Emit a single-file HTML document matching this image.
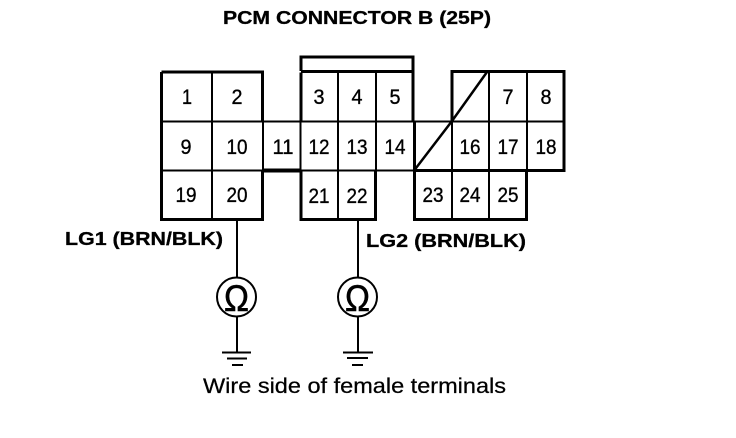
<!DOCTYPE html>
<html><head><meta charset="utf-8"><style>
html,body{margin:0;padding:0;background:#fff}
svg{display:block}
text{font-family:"Liberation Sans",sans-serif;fill:#000}
.n{font-size:21px;text-anchor:middle;stroke:#000;stroke-width:.35}
.b{font-size:18.500px;font-weight:bold;stroke:#000;stroke-width:.3}
</style></head><body>
<svg width="736" height="438" viewBox="0 0 736 438" xmlns="http://www.w3.org/2000/svg">
<rect width="736" height="438" fill="#fff"/>
<g fill="none" stroke="#000" stroke-width="3">
<path d="M161.500 72H262.500V121M262.500 170V219.500H161.500V72"/>
<path d="M301 121V72.500M301 170.500V219.500H375.500V171"/>
<path d="M301 71V57H413V121"/>
<path d="M301 71.500H413"/>
<path d="M263 170.500H301" stroke-width="4"/>
<path d="M414.500 121V219.500H526.500V171"/>
<path d="M452 121V71.500H564V170.500H414"/>
</g>
<g fill="none" stroke="#000" stroke-width="2">
<path d="M161 121.500H564M161 170.500H414"/>
<path d="M212 72V219M263 121V170M300.500 121V170M338 72V219M376 72V170"/>
<path d="M452 121V219M489 72V219M527 72V170"/>
<path d="M487 72L452 121L414.500 170" stroke-width="2.500"/>
<path d="M237 220V278M237 316V352M358 220V278M358 316V352"/>
<path d="M222 352.500H251M343 352.500H373"/>
<path d="M227 358.500H247M347 358H368M232 365H243M352 365H363"/>
<circle cx="236.500" cy="297" r="19.500"/>
<circle cx="357.500" cy="297" r="19.500"/>
</g>
<g>
<text class="n" x="187" y="104" textLength="10" lengthAdjust="spacingAndGlyphs">1</text><text class="n" x="237" y="104" textLength="11" lengthAdjust="spacingAndGlyphs">2</text>
<text class="n" x="319" y="104" textLength="11" lengthAdjust="spacingAndGlyphs">3</text><text class="n" x="357" y="104" textLength="11" lengthAdjust="spacingAndGlyphs">4</text><text class="n" x="395" y="104" textLength="11" lengthAdjust="spacingAndGlyphs">5</text>
<text class="n" x="508" y="104" textLength="11" lengthAdjust="spacingAndGlyphs">7</text><text class="n" x="546" y="104" textLength="11" lengthAdjust="spacingAndGlyphs">8</text>
<text class="n" x="186" y="154" textLength="11" lengthAdjust="spacingAndGlyphs">9</text><text class="n" x="237" y="154" textLength="21" lengthAdjust="spacingAndGlyphs">10</text><text class="n" x="283" y="154" textLength="21" lengthAdjust="spacingAndGlyphs">11</text>
<text class="n" x="319" y="154" textLength="21" lengthAdjust="spacingAndGlyphs">12</text><text class="n" x="357" y="154" textLength="21" lengthAdjust="spacingAndGlyphs">13</text><text class="n" x="395" y="154" textLength="21" lengthAdjust="spacingAndGlyphs">14</text>
<text class="n" x="470" y="154" textLength="21" lengthAdjust="spacingAndGlyphs">16</text><text class="n" x="508" y="154" textLength="21" lengthAdjust="spacingAndGlyphs">17</text><text class="n" x="546" y="154" textLength="21" lengthAdjust="spacingAndGlyphs">18</text>
<text class="n" x="186" y="202" textLength="21" lengthAdjust="spacingAndGlyphs">19</text><text class="n" x="237" y="202" textLength="21" lengthAdjust="spacingAndGlyphs">20</text>
<text class="n" x="319" y="203" textLength="21" lengthAdjust="spacingAndGlyphs">21</text><text class="n" x="357" y="203" textLength="21" lengthAdjust="spacingAndGlyphs">22</text>
<text class="n" x="433" y="202" textLength="21" lengthAdjust="spacingAndGlyphs">23</text><text class="n" x="470" y="202" textLength="21" lengthAdjust="spacingAndGlyphs">24</text><text class="n" x="508" y="202" textLength="21" lengthAdjust="spacingAndGlyphs">25</text>
</g>
<text class="b" x="223" y="24" textLength="268" lengthAdjust="spacingAndGlyphs">PCM CONNECTOR B (25P)</text>
<text class="b" x="65" y="245" textLength="158" lengthAdjust="spacingAndGlyphs">LG1 (BRN/BLK)</text>
<text class="b" x="366" y="247" textLength="160" lengthAdjust="spacingAndGlyphs">LG2 (BRN/BLK)</text>
<text x="203" y="393" font-size="21.500" textLength="303" lengthAdjust="spacingAndGlyphs" stroke="#000" stroke-width=".25">Wire side of female terminals</text>
<text x="236.500" y="311" font-size="37" text-anchor="middle" textLength="25" lengthAdjust="spacingAndGlyphs" stroke="#000" stroke-width=".6">Ω</text>
<text x="357.500" y="311" font-size="37" text-anchor="middle" textLength="25" lengthAdjust="spacingAndGlyphs" stroke="#000" stroke-width=".6">Ω</text>
</svg>
</body></html>
